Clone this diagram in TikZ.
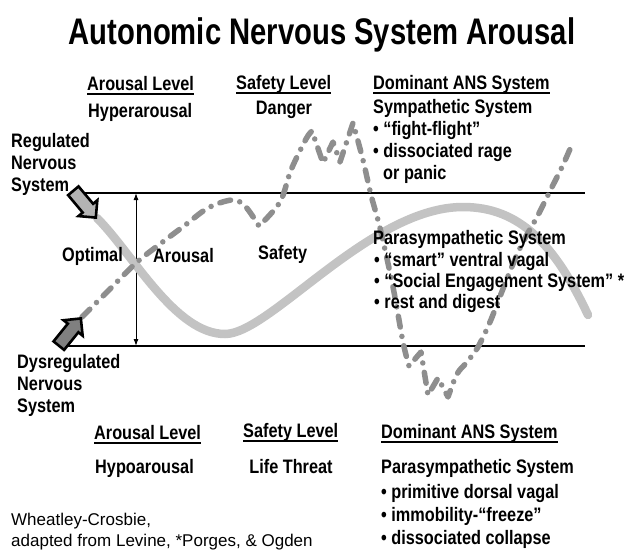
\documentclass[tikz,border=0pt]{standalone}
\usepackage{fontspec}
\setmainfont{Liberation Sans}
\newfontfamily\headfont{Liberation Sans}[FakeStretch=0.79]
\newfontfamily\labelfont{Liberation Sans}[FakeStretch=0.835]
\usetikzlibrary{arrows.meta,shapes.arrows}

\definecolor{bandgrey}{HTML}{C3C3C3}
\definecolor{dashgrey}{HTML}{8E8E8E}
\definecolor{reggrey}{HTML}{B4B4B4}
\definecolor{dysgrey}{HTML}{808080}

\begin{document}
\begin{tikzpicture}[x=1pt,y=-1pt,
  titletext/.style={inner sep=0pt, anchor=base, font=\headfont\bfseries\fontsize{37}{40}\selectfont},
  lbl/.style={inner sep=0pt, anchor=base west, font=\labelfont\bfseries\fontsize{19.5}{23}\selectfont},
  foot/.style={inner sep=0pt, anchor=base west, font=\fontsize{17}{20}\selectfont},
  uline/.style={line width=1.6pt},
  level/.style={line width=1.8pt},
  band/.style={line width=8.5pt, draw=bandgrey, line cap=round},
  dashcurve/.style={line width=5.5pt, draw=dashgrey, line cap=round, line join=round,
    dash pattern=on 11pt off 9.5pt on 0pt off 9.5pt},
  blockarrow/.style={single arrow, draw=black, line width=2.6pt, inner xsep=0pt,
    inner ysep=5.5pt, single arrow head extend=5.5pt, minimum height=35pt, anchor=tip},
  span/.style={line width=1pt, {Latex[length=7pt,width=5pt]}-{Latex[length=7pt,width=5pt]}}
]
\fill[white] (0,0) rectangle (628,551);
\useasboundingbox (0,0) rectangle (628,551);

% boundaries of the window of tolerance
\coordinate (topL) at (82,193);
\coordinate (topR) at (585,193);
\coordinate (botL) at (65,346);
\coordinate (botR) at (585,346);
\draw[level] (topL) -- (topR);
\draw[level] (botL) -- (botR);

% optimal arousal span
\coordinate (spanTop) at (136,193);
\coordinate (spanBot) at (136,346);
\draw[span] (spanTop) -- (spanBot);

% regulated nervous system
\draw[band] (97,218) .. controls (133,254) and (175,334) .. (225,334)
  .. controls (270,334) and (370,207) .. (463,207)
  .. controls (520,207) and (555,245) .. (588,315);

% dysregulated nervous system
\draw[dashcurve]
  plot[smooth, tension=0.55] coordinates {(82,317) (109,290) (136,263) (160,244) (184,226) (208,208) (232,200) (245,206) (259,226)}
  -- plot[smooth, tension=0.55] coordinates {(259,226) (280,202) (291,170) (306,139) (312,131)}
  -- (323,163) -- (333,142) -- (340,162) -- (353,123)
  -- plot[smooth, tension=0.55] coordinates {(353,123) (363,160) (371,195) (380,228) (393,287) (403,342) (409,366)}
  -- (421,352) -- (428,395) -- (438,378) -- (448,397)
  -- plot[smooth, tension=0.55] coordinates {(448,397) (457,374) (467,362) (478,347) (490,322) (499,299) (513,264) (524,240) (537,217) (549,193) (562,167) (570,149)};

% pointers to the two curves
\node[blockarrow, fill=reggrey, rotate=-50] (regarrow) at (97,219) {};
\node[blockarrow, fill=dysgrey, rotate=51] (dysarrow) at (82,317) {};

% title
\node[titletext] (title) at (322,45) {Autonomic Nervous System Arousal};

% upper legend
\node[lbl] (arousalHi) at (87,90) {Arousal Level};
\node[lbl] (safetyHi) at (236,89) {Safety Level};
\node[lbl] (ansHi) at (373,89) {Dominant ANS System};
\node[lbl] (hyper) at (88,117) {Hyperarousal};
\node[lbl, anchor=base] (danger) at (284,114) {Danger};
\node[lbl] (symp) at (373,113) {Sympathetic System};
\node[lbl] (fight) at (373,135) {• “fight-flight”};
\node[lbl] (rage) at (373,157) {• dissociated rage};
\node[lbl] (panic) at (383,179) {or panic};

% curve labels
\node[lbl] (reg1) at (11,147) {Regulated};
\node[lbl] (reg2) at (11,169) {Nervous};
\node[lbl] (reg3) at (11,191) {System};
\node[lbl] (dys1) at (17,368) {Dysregulated};
\node[lbl] (dys2) at (17,390) {Nervous};
\node[lbl] (dys3) at (17,412) {System};

% middle band
\node[lbl] (optimal) at (62,261) {Optimal};
\node[lbl] (arousalMid) at (153,262) {Arousal};
\node[lbl] (safetyMid) at (258,259) {Safety};
\node[lbl] (para) at (373,244) {Parasympathetic System};
\node[lbl] (smart) at (374,266) {• “smart” ventral vagal};
\node[lbl] (ses) at (374,287) {• “Social Engagement System” *};
\node[lbl] (rest) at (374,308) {• rest and digest};

% lower legend
\node[lbl] (arousalLo) at (94,439) {Arousal Level};
\node[lbl] (safetyLo) at (243,437) {Safety Level};
\node[lbl] (ansLo) at (381,438) {Dominant ANS System};
\node[lbl] (hypo) at (95,473) {Hypoarousal};
\node[lbl, anchor=base] (threat) at (291,473) {Life Threat};
\node[lbl] (para2) at (381,473) {Parasympathetic System};
\node[lbl] (dorsal) at (381,498) {• primitive dorsal vagal};
\node[lbl] (freeze) at (381,521) {• immobility-“freeze”};
\node[lbl] (collapse) at (381,544) {• dissociated collapse};

\foreach \n in {arousalHi,safetyHi,ansHi,arousalLo,safetyLo,ansLo}
  \draw[uline] ([yshift=-4pt]\n.base west) -- ([yshift=-4pt]\n.base east);

% credits
\node[foot] (credit1) at (11,525) {Wheatley-Crosbie,};
\node[foot] (credit2) at (11,546) {adapted from Levine, *Porges, \& Ogden};
\end{tikzpicture}
\end{document}
